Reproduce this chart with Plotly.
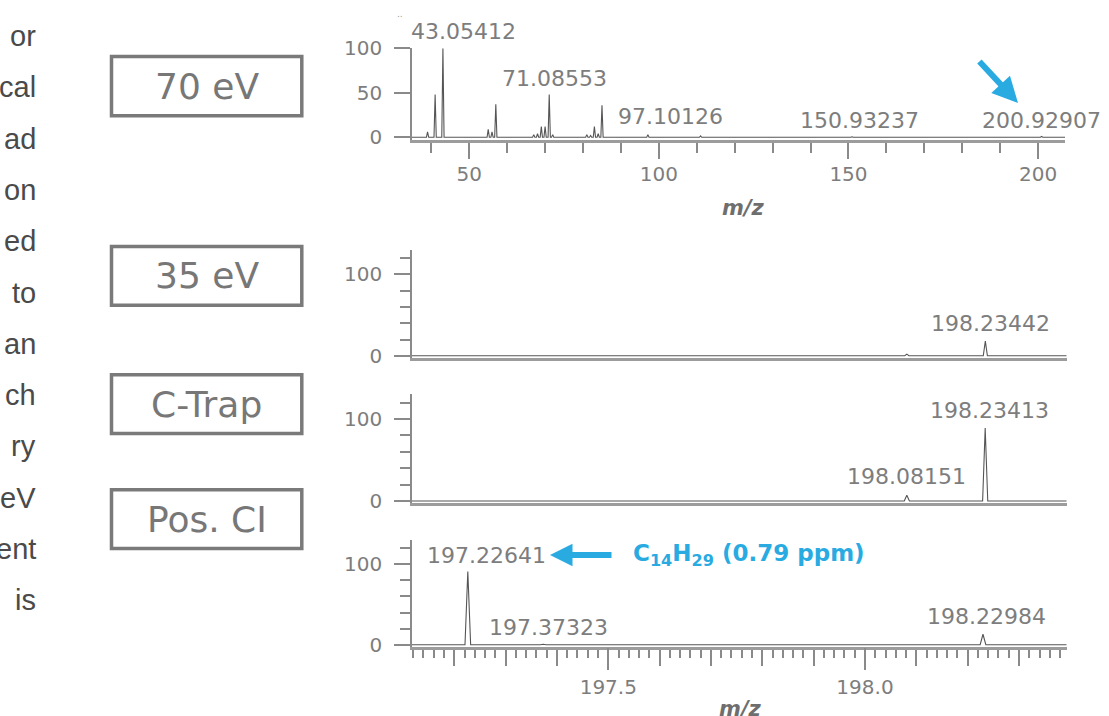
import plotly.graph_objects as go

# ---------------- data ----------------
# 70 eV EI spectrum (m/z, relative intensity)
ei70_mz = [39.0, 41.0, 43.05412, 55.0, 56.0, 57.0, 67.0, 68.0, 69.0, 70.0, 71.08553, 72.0,
           81.0, 82.0, 83.0, 84.0, 85.0, 97.10126, 111.0, 150.93237, 200.92907]
ei70_int = [6, 48, 100, 9, 6, 37, 3, 4, 12, 12, 48, 3,
            3, 2, 12, 4, 36, 3, 1.5, 0.6, 1.0]
ei70_labels = ["43.05412", "71.08553", "97.10126", "150.93237", "200.92907"]

# 35 eV
ei35_mz = [198.08151, 198.23442]
ei35_int = [2, 18]
ei35_labels = ["198.23442"]

# C-Trap
ctrap_mz = [198.08151, 198.23413]
ctrap_int = [7, 89]
ctrap_labels = ["198.23413", "198.08151"]

# Positive CI
pci_mz = [197.22641, 197.37323, 198.22984]
pci_int = [91, 0.5, 13]
pci_labels = ["197.22641", "197.37323", "198.22984"]

box_labels = ["70 eV", "35 eV", "C-Trap", "Pos. CI"]
side_words = ["or", "cal", "ad", "on", "ed", "to", "an", "ch", "ry", "eV", "ent", "is"]
formula_text = "C<sub>14</sub>H<sub>29</sub> (0.79 ppm)"

# ---------------- layout helpers ----------------
W, H = 1109, 716
def px(x):
    return x / W
def py(y):
    return 1 - y / H

GRAY_TXT = "#7d7d7d"
AX = "#8a8a8a"
LINE = "#555555"
BLUE = "#29abe2"
FONT = "DejaVu Sans"

TOP_X = [34.9, 207.1]
LOW_X = [197.1177, 198.3929]

def profile(mzs, ints, hw, xr):
    xs, ys = [xr[0]], [0]
    for m, i in sorted(zip(mzs, ints)):
        xs += [m - hw, m, m + hw]
        ys += [0, i, 0]
    xs.append(xr[1]); ys.append(0)
    return xs, ys

fig = go.Figure()

def add_spec(mzs, ints, hw, xr, xa, ya):
    xs, ys = profile(mzs, ints, hw, xr)
    fig.add_trace(go.Scatter(x=xs, y=ys, mode="lines", xaxis=xa, yaxis=ya,
                             line=dict(color=LINE, width=1.1), hoverinfo="skip",
                             showlegend=False, cliponaxis=True))

add_spec(ei70_mz, ei70_int, 0.3, TOP_X, "x", "y")
add_spec(ei35_mz, ei35_int, 0.004, LOW_X, "x2", "y2")
add_spec(ctrap_mz, ctrap_int, 0.005, LOW_X, "x3", "y3")
add_spec(pci_mz, pci_int, 0.0055, LOW_X, "x4", "y4")
# invisible trace to activate overlay axis
fig.add_trace(go.Scatter(x=[LOW_X[0]], y=[0], xaxis="x5", yaxis="y4", mode="markers",
                         marker=dict(opacity=0), hoverinfo="skip", showlegend=False))

tickfont = dict(family=FONT, size=20, color=GRAY_TXT)

def yaxis(dom, rng, dtick, minor, anchor):
    d = dict(domain=[py(dom[1]), py(dom[0])], range=rng, anchor=anchor, automargin=False,
             showgrid=False, zeroline=False, showline=True, linecolor=AX, linewidth=1.5,
             ticks="outside", ticklen=16, tickwidth=1.5, tickcolor=AX,
             tickmode="linear", tick0=0, dtick=dtick, tickfont=tickfont,
             ticklabelstandoff=8, fixedrange=True)
    if minor:
        d["minor"] = dict(ticks="outside", ticklen=10, tickwidth=1.5, tickcolor=AX,
                          dtick=20, tick0=0, showgrid=False)
    return d

def xaxis(dom, rng, anchor, **kw):
    d = dict(domain=[px(dom[0]), px(dom[1])], range=rng, anchor=anchor, automargin=False,
             showgrid=False, zeroline=False, showline=True, linecolor="#9c9c9c",
             linewidth=3, fixedrange=True, tickfont=tickfont)
    d.update(kw)
    return d

fig.update_layout(
    template="none",
    width=W, height=H, autosize=False,
    margin=dict(l=0, r=0, t=0, b=0, pad=0),
    paper_bgcolor="white", plot_bgcolor="white",
    showlegend=False,
    xaxis=xaxis([412, 1065], TOP_X, "y", ticks="outside", ticklen=16, tickwidth=1.5,
                tickcolor=AX, tickmode="linear", tick0=0, dtick=50, ticklabelstandoff=-2,
                minor=dict(ticks="outside", ticklen=10, tickwidth=1.5, tickcolor=AX,
                           dtick=10, showgrid=False)),
    yaxis=yaxis([48.3, 139.5], [-2.5, 100], 50, False, "x"),
    xaxis2=xaxis([412, 1066.7], LOW_X, "y2", ticks="", showticklabels=False),
    yaxis2=yaxis([250, 357.5], [-2.1, 130], 100, True, "x2"),
    xaxis3=xaxis([412, 1066.7], LOW_X, "y3", ticks="", showticklabels=False),
    yaxis3=yaxis([394.4, 502.5], [-1.8, 130], 100, True, "x3"),
    xaxis4=xaxis([412, 1066.7], LOW_X, "y4", ticks="outside", ticklen=16, tickwidth=1.5,
                 tickcolor=AX, tickmode="linear", tick0=197.0, dtick=0.1,
                 showticklabels=False,
                 minor=dict(ticks="outside", ticklen=8, tickwidth=1.5, tickcolor=AX,
                            dtick=0.02, showgrid=False)),
    xaxis5=dict(overlaying="x4", anchor="y4", matches="x4", range=LOW_X, side="bottom",
                automargin=False,
                showline=False, showgrid=False, zeroline=False, ticks="outside",
                ticklen=22, tickwidth=1.5, tickcolor=AX, tickmode="array",
                tickvals=[197.5, 198.0], ticktext=["197.5", "198.0"],
                tickfont=tickfont, ticklabelstandoff=0, fixedrange=True),
    yaxis4=yaxis([540, 646.5], [-2.2, 130], 100, True, "x4"),
)

ann = []
lab_font = dict(family=FONT, size=22, color=GRAY_TXT)

def peak_label(text, mz, y, xshift, xa, ya, yshift=0):
    ann.append(dict(x=mz, y=y, xref=xa, yref=ya, text=text, showarrow=False,
                    xanchor="center", yanchor="middle", xshift=xshift, yshift=yshift,
                    font=lab_font))

# top panel labels (first one sits above the axis top, so anchor at 100 and shift up)
peak_label(ei70_labels[0], float(ei70_labels[0]), 100, 21, "x", "y", yshift=16.5)
top_lab_pos = [(66.3, 5), (23.9, 23), (19.4, 7), (19.4, 0)]
for t, (yv, xs) in zip(ei70_labels[1:], top_lab_pos):
    peak_label(t, float(t), yv, xs, "x", "y")
peak_label(ei35_labels[0], float(ei35_labels[0]), 40, 5, "x2", "y2")
peak_label(ctrap_labels[0], float(ctrap_labels[0]), 110, 4, "x3", "y3")
peak_label(ctrap_labels[1], float(ctrap_labels[1]), 29.6, 0, "x3", "y3")
peak_label(pci_labels[0], float(pci_labels[0]), 111.3, 19, "x4", "y4")
peak_label(pci_labels[1], float(pci_labels[1]), 21.6, 5, "x4", "y4")
peak_label(pci_labels[2], float(pci_labels[2]), 35.6, 4, "x4", "y4")

# m/z axis titles
for (xp, yp) in [(743, 208), (740, 709)]:
    ann.append(dict(x=px(xp), y=py(yp), xref="paper", yref="paper",
                    text="<b><i>m/z</i></b>", showarrow=False,
                    font=dict(family=FONT, size=21, color="#6e6e6e"),
                    xanchor="center", yanchor="middle"))

# blue arrows
ann.append(dict(x=px(1018), y=py(103), xref="paper", yref="paper", text="",
                showarrow=True, ax=-40, ay=-43, axref="pixel", ayref="pixel",
                arrowhead=2, arrowsize=0.85, arrowwidth=6, arrowcolor=BLUE))
ann.append(dict(x=px(550), y=py(555), xref="paper", yref="paper", text="",
                showarrow=True, ax=63, ay=0, arrowhead=2, arrowsize=0.75,
                arrowwidth=6, arrowcolor=BLUE))
ann.append(dict(x=px(631), y=py(555), xref="paper", yref="paper",
                text="<b>" + formula_text + "</b>", showarrow=False,
                xanchor="left", yanchor="middle",
                font=dict(family=FONT, size=23, color=BLUE)))

# boxed labels
box_y = [(55, 117.3), (245, 306.7), (373.3, 435), (488.3, 550)]
shapes = []
for t, (y0, y1) in zip(box_labels, box_y):
    shapes.append(dict(type="rect", xref="paper", yref="paper",
                       x0=px(111.5), x1=px(301.8), y0=py(y1 - 1.5), y1=py(y0 + 1.5),
                       line=dict(color="#7a7a7a", width=3.5), fillcolor="rgba(0,0,0,0)"))
    ann.append(dict(x=px(206.7), y=py((y0 + y1) / 2), xref="paper", yref="paper",
                    text=t, showarrow=False, xanchor="center", yanchor="middle",
                    font=dict(family=FONT, size=36, color="#777777")))

# cropped paragraph on the left
for i, w in enumerate(side_words):
    txt = (" " + w) if w == "is" else w
    ann.append(dict(x=px(38), y=py(36 + 51.3 * i), xref="paper", yref="paper",
                    text=txt, showarrow=False, xanchor="right", yanchor="middle",
                    font=dict(family="Liberation Sans", size=29, color="#4a4a4a")))

# tiny residual mark at top
ann.append(dict(x=px(400), y=py(14), xref="paper", yref="paper", text="..",
                showarrow=False, font=dict(family=FONT, size=9, color="#999999"),
                xanchor="center", yanchor="middle"))

fig.update_layout(annotations=ann, shapes=shapes)
fig.write_html("out.html",
               config={"displayModeBar": False, "staticPlot": False},
               post_script="document.body.style.margin='0px';"
                           "document.body.style.overflow='hidden';")
